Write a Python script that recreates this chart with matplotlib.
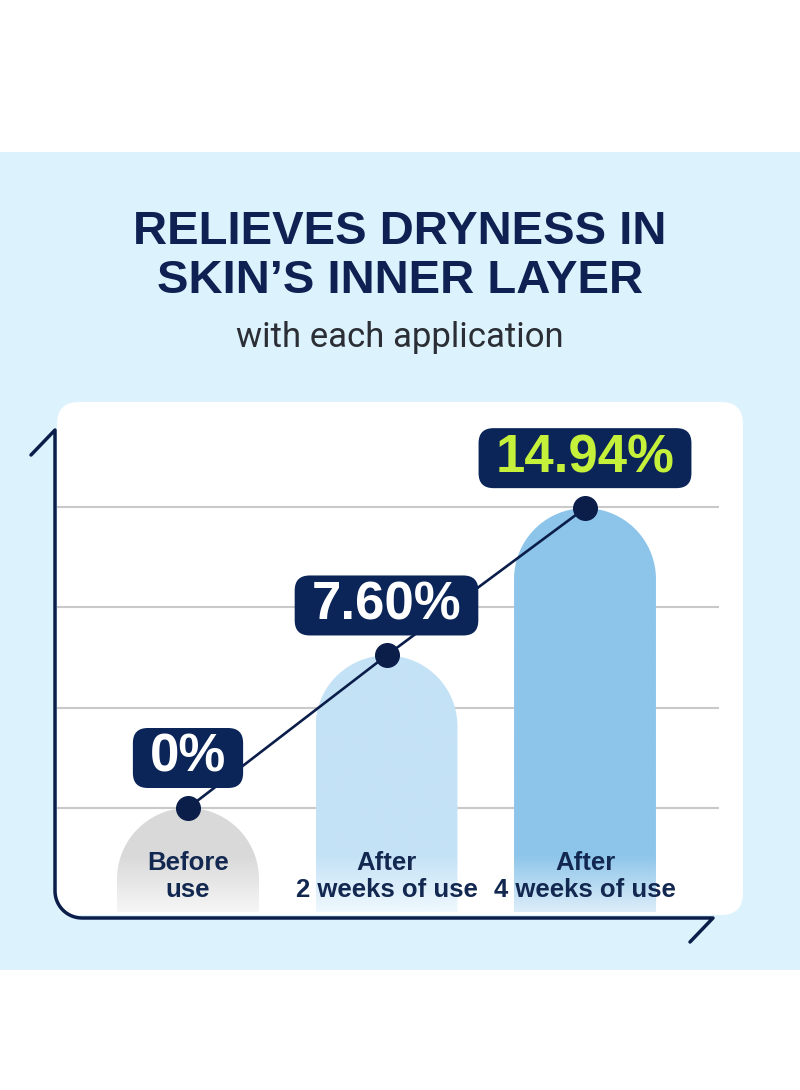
import numpy as np
import matplotlib.pyplot as plt
from matplotlib.patches import FancyBboxPatch, Rectangle, Polygon
from matplotlib.colors import to_rgb

# chart data
stages = ["Before\nuse", "After\n2 weeks of use", "After\n4 weeks of use"]
values = [0.0, 7.60, 14.94]
value_labels = ["0%", "7.60%", "14.94%"]
grid_ticks = [0, 5, 10, 15]

title_lines = ["RELIEVES DRYNESS IN", "SKIN\u2019S INNER LAYER"]
subtitle = "with each application"

# colours
navy = "#0e2152"
bubble_navy = "#0b2559"
line_navy = "#0b1e4a"
bar_top_colors = ["#d9d9d9", "#c4e2f6", "#8dc5ea"]
bar_bottom_colors = ["#f6f6f6", "#eff8fe", "#dcedf9"]
label_colors = ["white", "white", "#c6f13a"]

plt.rcParams['font.family'] = ['Liberation Sans', 'DejaVu Sans']

W, H = 800, 1090
fig = plt.figure(figsize=(W / 100, H / 100), dpi=100)

# background layer, pixel units
bg = fig.add_axes([0, 0, 1, 1])
bg.set_xlim(0, W)
bg.set_ylim(H, 0)
bg.axis('off')
bg.set_zorder(1)
bg.add_patch(Rectangle((0, 152), W, 818, color="#dcf3fd", lw=0))
bg.add_patch(FancyBboxPatch((57, 402), 686, 513,
                            boxstyle="round,pad=0,rounding_size=22",
                            fc="white", ec="none"))

bg.text(400, 232, title_lines[0], ha='center', va='center', fontsize=34,
        fontweight='bold', color=navy)
bg.text(400, 281, title_lines[1], ha='center', va='center', fontsize=34,
        fontweight='bold', color=navy)
bg.text(400, 337, subtitle, ha='center', va='center', fontsize=25,
        family='Roboto', color="#2b2e35")

# axis frame with rounded corner and end ticks
r = 27
t = np.linspace(np.pi, np.pi / 2, 16)
fx = np.concatenate([[31, 55, 55], 82 + r * np.cos(t), [713, 690]])
fy = np.concatenate([[455, 430, 918 - r], 918 - r + r * np.sin(t), [918, 942]])
bg.plot(fx, fy, color=line_navy, lw=2.5, solid_joinstyle='round',
        solid_capstyle='round')

# data layer
px_left, px_right, px_top, px_bot = 57, 719, 420, 918
ax = fig.add_axes([px_left / W, 1 - px_bot / H,
                   (px_right - px_left) / W, (px_bot - px_top) / H])
ax.set_zorder(2)
ax.patch.set_visible(False)
x_unit, x_zero = 198.5, 188   # pixels per category step, pixel of first category
y_unit, y_zero = 20.07, 808   # pixels per percent, pixel of 0%

bar_w = 0.715
base = -5.2
rx = bar_w / 2
ry = rx * x_unit / y_unit
for i, v in enumerate(values):
    th = np.linspace(np.pi, 0, 80)
    cy = v - ry
    xs = np.concatenate([[i - rx], i + rx * np.cos(th), [i + rx]])
    ys = np.concatenate([[base], cy + ry * np.sin(th), [base]])
    poly = Polygon(np.column_stack([xs, ys]), closed=True, fc='none',
                   ec='none')
    ax.add_patch(poly)
    yy = np.linspace(base, v, 200)
    frac = np.clip((yy - base) / 2.8, 0, 1)[:, None]
    c0 = np.array(to_rgb(bar_bottom_colors[i]))
    c1 = np.array(to_rgb(bar_top_colors[i]))
    img = (c0 + (c1 - c0) * frac)[:, None, :]
    im = ax.imshow(img, extent=[i - rx, i + rx, base, v], origin='lower',
                   aspect='auto', zorder=2, interpolation='bilinear')
    im.set_clip_path(poly)

xpos = np.arange(len(values))
ax.plot(xpos, values, color=line_navy, lw=1.9, zorder=4)
ax.plot(xpos, values, 'o', color=line_navy, ms=17, zorder=5)

for i, s in enumerate(stages):
    ax.text(i, 0.083, s, transform=ax.get_xaxis_transform(), ha='center',
            va='center', fontsize=18.5, fontweight='bold', color="#132850",
            linespacing=1.15, zorder=6)

ax.set_yticks(grid_ticks)
ax.set_xticks([])
ax.yaxis.grid(True, color="#c9c9c9", lw=1.5)
ax.set_axisbelow(True)
ax.tick_params(length=0, labelleft=False, labelbottom=False)
for sp in ax.spines.values():
    sp.set_visible(False)
ax.set_xlim((px_left - x_zero) / x_unit, (px_right - x_zero) / x_unit)
ax.set_ylim((y_zero - px_bot) / y_unit, (y_zero - px_top) / y_unit)

# value bubbles, overlay in pixel units
top = fig.add_axes([0, 0, 1, 1])
top.set_xlim(0, W)
top.set_ylim(H, 0)
top.axis('off')
top.set_zorder(3)
top.patch.set_visible(False)
renderer = fig.canvas.get_renderer()
for i, v in enumerate(values):
    px, py = top.transData.inverted().transform(ax.transData.transform((i, v)))
    cy = py - 50
    txt = top.text(px, cy, value_labels[i], ha='center', va='center',
                   fontsize=38, fontweight='bold', color=label_colors[i],
                   zorder=3)
    w = txt.get_window_extent(renderer).width
    top.add_patch(FancyBboxPatch((px - w / 2 - 17, cy - 30), w + 34, 60,
                                 boxstyle="round,pad=0,rounding_size=15",
                                 fc=bubble_navy, ec='none', zorder=2))

fig.savefig('out.png', dpi=100)
